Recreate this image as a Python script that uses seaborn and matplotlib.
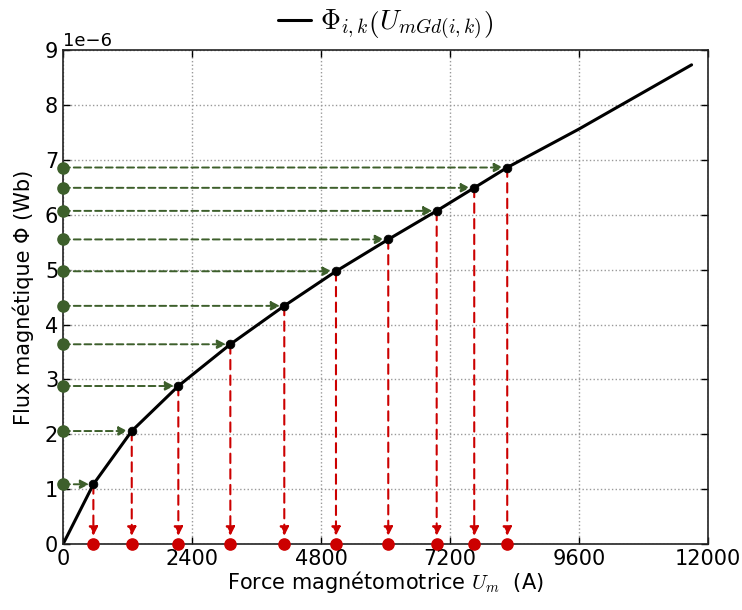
"""
Magnetic flux vs magnetomotive force, with projections of the sample points.
"""

import matplotlib
matplotlib.use("Agg")
import matplotlib.pyplot as plt
import seaborn as sns
import pandas as pd

# curve (A, 1e-6 Wb)
curve_um = [0, 564, 1278, 2145, 3113, 4117, 5079, 6052, 6953, 7652, 8266, 9600, 10424, 11697]
curve_phi = [0, 1.09, 2.06, 2.88, 3.64, 4.34, 4.97, 5.55, 6.07, 6.49, 6.86, 7.56, 8.02, 8.73]

# sample points on the curve
pts_um = [564, 1278, 2145, 3113, 4117, 5079, 6052, 6953, 7652, 8266]
pts_phi = [1.09, 2.06, 2.88, 3.64, 4.34, 4.97, 5.55, 6.07, 6.49, 6.86]

x_ticks = [0, 2400, 4800, 7200, 9600, 12000]
y_ticks = [0, 1, 2, 3, 4, 5, 6, 7, 8, 9]

GREEN = "#3d5f2b"
RED = "#cc0000"

sns.set_style("ticks")
plt.rcParams["font.family"] = ["DejaVu Sans"]
plt.rcParams["mathtext.fontset"] = "cm"
plt.rcParams["xtick.direction"] = "in"
plt.rcParams["ytick.direction"] = "in"
plt.rcParams["text.color"] = "black"
plt.rcParams["axes.labelcolor"] = "black"
plt.rcParams["xtick.color"] = "black"
plt.rcParams["ytick.color"] = "black"

curve = pd.DataFrame({"Um": curve_um, "Phi": [v * 1e-6 for v in curve_phi]})
pts = pd.DataFrame({"Um": pts_um, "Phi": [v * 1e-6 for v in pts_phi]})

fig = plt.figure(figsize=(7.42, 6.10), dpi=100)
ax = fig.add_axes([0.085, 0.108, 0.869, 0.810])

# projections onto the flux axis (green) and onto the mmf axis (red)
for um, phi in zip(pts["Um"], pts["Phi"]):
    ax.annotate("", xy=(um, phi), xytext=(0, phi),
                arrowprops=dict(arrowstyle="-|>", linestyle=(0, (3.5, 2)), color=GREEN,
                                lw=1.4, shrinkA=0, shrinkB=3, mutation_scale=13))
    ax.annotate("", xy=(um, 0), xytext=(um, phi),
                arrowprops=dict(arrowstyle="-|>", linestyle=(0, (4.5, 3)), color=RED,
                                lw=1.5, shrinkA=0, shrinkB=6, mutation_scale=13))

sns.lineplot(data=curve, x="Um", y="Phi", color="black", lw=2.2, ax=ax,
             label=r"$\Phi_{i,k}\left(U_{mGd(i,k)}\right)$")
sns.scatterplot(data=pts, x="Um", y="Phi", color="black", s=40, edgecolor="black",
                zorder=5, ax=ax, legend=False)
ax.scatter([0] * len(pts_phi), pts["Phi"], color=GREEN, s=65, zorder=6, clip_on=False)
ax.scatter(pts["Um"], [0] * len(pts_um), color=RED, s=65, zorder=6, clip_on=False)

ax.set_xlim(0, 12000)
ax.set_ylim(0, 9e-6)
ax.set_xticks(x_ticks)
ax.set_yticks([v * 1e-6 for v in y_ticks])
ax.ticklabel_format(axis="y", style="sci", scilimits=(0, 0))
ax.yaxis.get_offset_text().set_fontsize(13)
ax.tick_params(labelsize=15, top=True, right=True, length=5, width=1)
ax.grid(True, linestyle=":", color="#999999", lw=1)
for s in ax.spines.values():
    s.set_color("#222222")
    s.set_linewidth(1.2)

ax.set_xlabel(r"Force magnétomotrice $U_m$  (A)", fontsize=15)
ax.set_ylabel("Flux magnétique Φ (Wb)", fontsize=15)
ax.xaxis.set_label_coords(0.5, -0.05)
ax.yaxis.set_label_coords(-0.045, 0.5)
ax.legend(loc="lower center", bbox_to_anchor=(0.5, 0.99), frameon=False,
          fontsize=20, handlelength=1.2, handletextpad=0.3, borderaxespad=0.1)

fig.savefig("out.png", dpi=100)
